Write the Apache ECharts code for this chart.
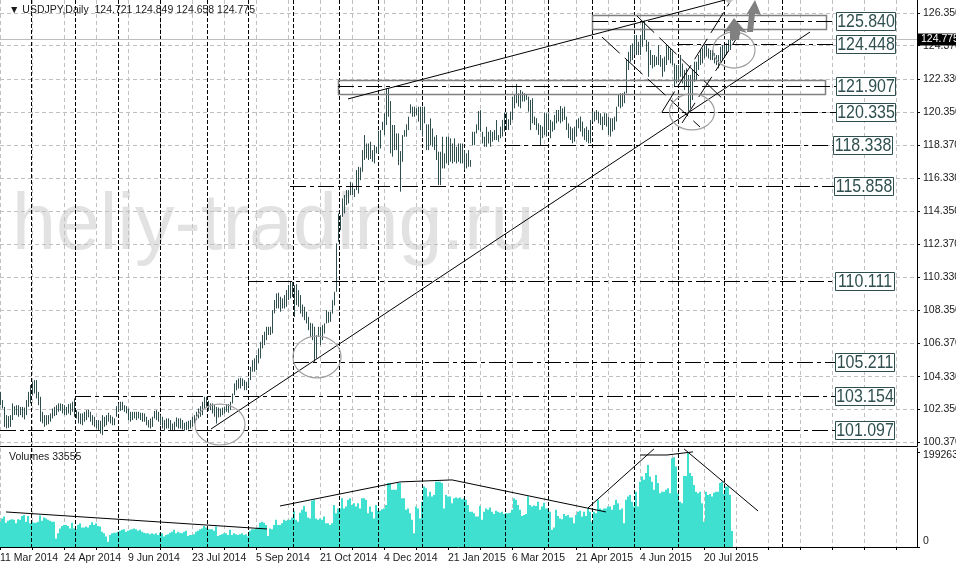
<!doctype html>
<html lang="en">
<head>
<meta charset="utf-8">
<title>USDJPY Daily</title>
<script src="https://cdn.jsdelivr.net/npm/echarts@6/dist/echarts.min.js"></script>
<style>
html, body { margin: 0; padding: 0; background: #fff; overflow: hidden; }
#chart { width: 956px; height: 566px; }
</style>
</head>
<body>
<div id="chart"></div>
<script>
// daily highs / lows, one per bar
var highs = [
103.41,102.91,102.50,102.00,101.94,102.00,102.71,102.54,102.60,102.60,102.50,102.50,102.46,102.91,103.41,103.82,104.02,104.12,104.12,103.41,
103.11,102.20,102.00,102.00,102.00,102.10,102.40,102.50,102.60,102.71,102.71,102.67,102.60,102.50,102.67,102.71,102.81,103.01,102.30,102.20,
102.10,102.10,102.20,102.30,102.34,102.20,102.00,101.90,101.70,101.70,101.66,102.00,101.90,102.00,102.14,102.00,101.90,101.80,102.54,102.71,
102.81,102.81,102.60,102.54,102.40,102.20,102.20,102.20,102.20,102.20,102.14,102.14,102.10,101.90,101.70,101.80,101.90,102.26,102.30,102.20,
102.00,101.90,101.70,101.80,101.80,101.70,101.49,101.60,101.86,101.80,101.80,101.70,101.54,101.60,101.66,101.70,101.90,102.00,102.20,102.40,
102.54,102.81,103.11,103.11,102.87,102.71,102.71,102.60,102.50,102.46,102.40,102.46,102.50,102.67,102.67,102.81,103.31,103.92,104.12,104.22,
104.26,104.22,104.12,104.02,104.22,104.93,105.33,105.43,105.64,106.04,106.44,106.85,107.05,107.35,107.35,107.35,108.36,108.97,109.37,109.41,
109.17,109.07,109.27,109.57,109.88,110.08,110.07,109.87,109.93,109.57,109.27,108.70,108.56,108.26,107.95,107.59,107.55,107.35,106.84,107.35,
107.35,107.45,107.55,108.36,108.26,108.26,108.96,109.47,112.40,114.21,114.11,115.12,115.33,115.63,115.63,116.13,116.03,115.70,116.84,117.04,
117.00,118.05,118.96,118.45,118.45,118.56,118.05,118.35,118.25,119.22,119.26,119.77,120.27,121.79,121.79,121.02,119.57,119.57,119.06,119.06,
117.99,118.96,119.26,119.61,120.07,120.82,120.68,120.68,120.58,120.68,120.68,120.68,120.68,119.61,119.61,119.97,119.36,118.86,118.96,117.95,
117.95,118.86,117.85,118.86,118.86,118.76,118.45,118.76,118.25,118.45,118.45,118.45,118.05,117.85,118.05,117.45,119.16,119.16,119.61,120.41,
120.47,119.16,118.86,119.46,119.16,119.26,119.16,119.26,119.87,118.96,119.47,119.88,120.32,120.32,119.92,120.38,121.29,121.39,122.06,121.49,
121.69,121.59,121.49,121.45,121.29,121.09,121.19,120.08,119.98,119.67,119.57,119.47,120.32,120.28,120.28,119.88,119.78,120.18,120.48,120.48,
120.72,120.58,120.68,120.08,119.67,119.47,119.37,119.47,119.88,119.98,120.08,119.78,119.37,119.47,119.27,119.88,120.38,120.38,120.48,120.38,
120.28,120.08,120.28,120.28,120.08,119.98,119.98,120.08,120.68,121.39,121.49,121.49,121.59,123.50,124.00,124.41,124.51,125.02,125.02,124.61,
125.02,125.83,125.89,124.72,124.61,124.11,123.81,123.81,123.71,124.41,123.81,123.61,123.71,124.41,124.31,124.21,124.01,123.30,123.20,123.20,
123.81,123.30,122.90,123.00,122.60,122.60,122.90,123.40,123.40,123.81,124.11,124.21,124.41,124.41,124.21,124.11,124.11,123.91,123.81,123.81,
124.31,124.41,124.41,124.51,124.72,124.82,124.85
];
var lows = [
102.60,102.40,101.29,101.19,101.23,101.29,101.70,102.00,102.00,101.90,102.00,101.86,101.74,102.00,102.50,102.71,103.21,103.31,103.01,102.60,
101.60,101.50,101.29,101.39,101.45,101.60,101.80,101.94,102.00,102.20,102.26,102.10,102.00,102.00,102.10,102.00,102.20,101.90,101.80,101.50,
101.45,101.39,101.60,101.70,101.86,101.60,101.39,101.29,101.19,101.09,100.89,100.79,101.29,101.39,101.60,101.49,101.39,101.39,101.90,102.20,
102.26,102.30,102.20,102.10,101.70,101.60,101.70,101.80,101.70,101.80,101.70,101.60,101.60,101.39,101.25,101.19,101.29,101.80,101.70,101.60,
101.39,101.19,101.05,101.19,101.19,101.05,101.05,101.09,101.29,101.19,101.19,101.13,101.05,101.09,101.13,101.19,101.29,101.49,101.70,101.80,
101.90,102.00,102.40,102.50,102.26,102.30,102.10,101.90,101.49,101.86,101.90,102.00,102.10,102.20,102.14,102.30,102.71,103.21,103.51,103.61,
103.61,103.76,103.51,103.51,103.72,104.12,104.63,104.63,104.73,105.13,105.43,106.04,106.24,106.54,106.85,106.85,106.95,108.16,108.46,108.46,
108.26,108.46,108.46,108.56,108.97,109.07,109.16,107.95,108.66,108.56,108.15,107.95,107.75,107.55,107.14,106.74,106.54,105.23,105.43,106.74,
106.24,106.54,106.94,107.55,107.59,107.65,108.15,108.64,109.47,112.50,113.20,114.01,114.21,114.72,114.82,115.32,115.32,115.20,115.63,115.42,
116.23,116.74,117.45,117.55,117.45,117.51,117.34,117.24,117.85,117.85,118.15,119.26,118.96,119.57,120.07,117.85,117.65,118.05,118.05,117.14,
115.53,117.34,118.86,118.86,119.26,120.27,120.07,120.07,120.17,119.77,119.26,118.86,119.67,118.05,118.05,118.35,118.25,118.05,117.45,115.93,
115.93,116.94,116.94,117.24,117.14,117.34,117.24,117.34,117.24,117.34,117.24,117.24,116.84,116.94,117.04,117.04,118.35,118.35,119.06,119.26,
119.16,118.45,118.25,118.25,118.45,118.25,118.56,118.66,118.66,118.56,118.77,118.87,119.17,119.27,119.27,119.57,119.88,120.58,120.89,120.68,
120.58,120.99,120.99,121.09,120.38,119.27,119.67,119.57,119.27,118.97,118.36,118.77,118.97,118.87,119.27,118.77,119.17,119.27,119.67,119.78,
119.67,119.78,119.88,119.27,118.77,118.66,118.46,118.56,118.87,119.37,119.17,118.87,118.66,118.56,118.46,118.46,119.78,119.78,119.88,119.67,
119.57,119.27,119.57,119.47,118.97,118.87,119.17,119.27,119.78,120.68,120.58,120.68,120.89,121.49,122.90,123.40,123.50,123.81,123.81,123.81,
123.81,124.31,124.72,124.01,122.49,123.20,123.00,123.10,123.20,123.20,123.10,122.49,122.80,123.20,123.50,123.30,123.20,121.89,122.09,122.29,
122.49,122.09,121.69,121.89,120.37,120.57,121.08,122.19,122.29,122.90,123.20,123.30,123.60,123.71,123.60,123.50,123.50,123.30,123.20,123.00,
123.40,123.50,123.71,123.81,124.01,124.11,124.66
];
// volumes in thousands of ticks
var volumes = [
53,60,64,51,55,57,58,57,50,58,57,65,67,53,65,50,53,51,51,53,
66,55,62,60,57,55,53,53,18,29,39,44,46,46,44,39,51,39,37,46,
50,41,41,43,41,46,52,46,50,44,43,32,29,22,11,25,29,30,30,32,
34,36,37,32,34,36,37,39,37,34,36,32,30,29,29,27,29,27,29,25,
30,29,22,25,27,30,32,36,29,32,30,29,32,34,23,25,25,27,32,34,
37,39,44,41,37,37,37,34,43,23,25,27,29,29,25,36,25,29,27,25,
27,29,25,27,22,34,37,37,39,41,51,53,51,46,23,39,37,46,57,46,
46,50,57,55,57,57,62,76,57,53,72,78,86,74,62,60,97,99,60,57,
60,57,64,50,50,46,50,88,71,81,81,102,81,85,99,102,88,92,85,92,
81,102,102,99,71,85,74,60,88,76,76,79,81,88,134,134,120,120,120,134,
134,102,102,78,81,71,57,29,85,81,60,95,127,123,106,116,106,109,137,137,
137,134,81,109,106,106,92,102,104,102,104,100,102,99,88,74,74,71,64,64,
86,57,74,81,78,83,74,69,76,74,72,74,69,71,71,72,78,102,99,88,
78,65,67,69,106,88,85,87,86,95,78,85,93,81,81,74,36,41,78,65,
60,58,69,65,67,62,62,50,67,74,76,64,74,65,81,74,53,74,71,99,
81,78,81,81,85,85,78,88,99,92,78,81,50,99,106,109,95,85,116,85,
137,148,141,155,172,148,137,120,151,134,113,116,116,120,123,113,186,188,169,113,
95,92,149,149,199.263,155,149,130,116,113,116,92,53,116,109,111,106,114,116,116,
134,137,111,127,127,109,33.555
];

var priceTicks = [100.37,102.35,104.33,106.37,108.35,110.33,112.37,114.35,116.33,118.37,120.35,122.33,124.37,126.35];
var volumeTicks = [0,199263];
var dateLabels = ['11 Mar 2014','24 Apr 2014','9 Jun 2014','23 Jul 2014','5 Sep 2014','21 Oct 2014','4 Dec 2014','21 Jan 2015','6 Mar 2015','21 Apr 2015','4 Jun 2015','20 Jul 2015'];
var gridBars = [0,16,32,48,64,80,96,112,128,144,160,176,192,208,224,240,256,272,288,304,320,336,352,368,384,400,416,432,448];
var labelBars = [0,32,64,96,128,160,192,224,256,288,320,352];
// month separators, in bar numbers
var monthBars = [15.5,37.5,59,80,103.5,124,146.5,169.5,189,211,232,252.5,274,296,317,339,362,391];

// horizontal levels: price, first bar, bar of the label box
var levelPrices = [125.84,124.448,121.907,120.335,118.338,115.858,110.111,105.211,103.154,101.097];
var levelTexts = ['125.840','124.448','121.907','120.335','118.338','115.858','110.111','105.211','103.154','101.097'];
var levelStarts = [296,338.5,169,331,252,145,124,146.5,37.5,0];
var levelBoxes = [418,418,418,418,416.5,417,417.5,417.5,417.5,417.5];
// zones: first bar, last bar, upper price, lower price
var zones = [[296,413,126.23,125.37],[169,412.5,122.32,121.47]];
// trend lines: bar, price, bar, price
var priceLines = [[105.5,101.16,405,125.20],[174,121.15,362.5,127.14]];
var fanLines = [[301,124.90,350,119.45],[318.5,126.17,362.5,121.02],[331,120.36,365,127.02],[341,119.69,370,125.14]];
var volumeLines = [
  [3,73.5,133.5,37.8],[140,86,200,136.5],[200,136.5,226,140.7],[226,140.7,303,73.5],
  [294,81.9,327,205.8],[320,193,333.5,193],[333.5,193,346.5,199.5],[342,205.8,379,75.6]
];
// circles: bar, price, half width in bars, half height in price
var circles = [[110,101.43,12.5,1.24],[158.5,105.52,12,1.27],[346,120.36,11.25,1.09],[367,124.11,10.5,1.09]];
var arrows = [
  [[367,126.05],[373.5,125.14],[370,125.26],[369.5,124.72],[365,124.72],[365,125.26],[362,125.20]],
  [[377.5,127.14],[380.5,126.23],[377.5,126.3],[376.5,125.2],[373.5,125.2],[374.5,126.3],[373,126.23]],
  [[362.5,127.14],[366.5,127.14],[364.5,126.9]]
];
var lastPrice = 124.775;

var SLATE = '#2f4f4f';
var UI_FONT = '"Liberation Sans", Arial, sans-serif';
var chart = echarts.init(document.getElementById('chart'));

function crisp(v) { return Math.round(v) + 0.5; }

function xAxisOf(gridIndex, withLabels) {
  return {
    type: 'value', gridIndex: gridIndex, min: 0, max: 458.5, position: 'bottom',
    axisLine: { show: true, onZero: false, lineStyle: { color: '#000', width: 1 } },
    axisTick: { show: withLabels, length: 3, customValues: gridBars, lineStyle: { color: '#000' } },
    axisLabel: {
      show: withLabels, customValues: labelBars, align: 'left', margin: 6,
      color: '#1a1a1a', fontFamily: UI_FONT, fontSize: 10.5,
      formatter: function (v) { return dateLabels[labelBars.indexOf(v)]; }
    },
    splitLine: { show: true, lineStyle: { color: '#c0c0c0', type: [4, 3], width: 1 } }
  };
}

function segments(name, x, y, data, color, dash) {
  return {
    type: 'custom', name: name, xAxisIndex: x, yAxisIndex: y, clip: true, silent: true, data: data, z: 5,
    renderItem: function (params, api) {
      var a = api.coord([api.value(0), api.value(1)]);
      var b = api.coord([api.value(2), api.value(3)]);
      return {
        type: 'line',
        shape: { x1: a[0], y1: a[1], x2: b[0], y2: b[1] },
        style: { stroke: color, lineWidth: 1, lineDash: dash || null, fill: null }
      };
    }
  };
}

function separators(y) {
  return {
    type: 'custom', xAxisIndex: y, yAxisIndex: y, silent: true, z: 3,
    data: monthBars.map(function (b) { return [b]; }),
    renderItem: function (params, api) {
      var x = crisp(api.coord([api.value(0), 0])[0]);
      var r = params.coordSys;
      return {
        type: 'line',
        shape: { x1: x, y1: r.y, x2: x, y2: r.y + r.height },
        style: { stroke: '#000', lineWidth: 1, lineDash: [4, 2], fill: null }
      };
    }
  };
}

var option = {
  animation: false,
  backgroundColor: '#fff',
  textStyle: { fontFamily: UI_FONT },
  title: [
    { text: '\u25BC USDJPY,Daily  124.721 124.849 124.658 124.775', left: 4, top: 0,
      textStyle: { fontSize: 10.5, fontWeight: 'normal', color: '#1a1a1a', fontFamily: UI_FONT } },
    { text: 'Volumes 33555', left: 4, top: 447,
      textStyle: { fontSize: 10.5, fontWeight: 'normal', color: '#1a1a1a', fontFamily: UI_FONT } }
  ],
  graphic: [{
    type: 'text', left: 12, top: 188, z: -1, silent: true,
    style: { text: 'heliy-trading.ru', fontSize: 79, fontFamily: '"Liberation Sans", Arial, sans-serif', fill: '#e2e2e2' }
  }],
  grid: [
    { left: 0, top: 0, width: 917, height: 446, show: false, outerBoundsMode: 'none' },
    { left: 0, top: 448, width: 917, height: 99, show: false, outerBoundsMode: 'none' }
  ],
  xAxis: [xAxisOf(0, false), xAxisOf(1, true)],
  yAxis: [
    {
      type: 'value', gridIndex: 0, position: 'right', min: 100.13, max: 127.14,
      axisLine: { show: true, onZero: false, lineStyle: { color: '#000' } },
      axisTick: { show: true, length: 3, customValues: priceTicks, lineStyle: { color: '#000' } },
      axisLabel: {
        customValues: priceTicks, margin: 6, color: '#1a1a1a', fontFamily: UI_FONT, fontSize: 10.5,
        formatter: function (v) { return v.toFixed(3); }
      },
      splitLine: { show: true, lineStyle: { color: '#c0c0c0', type: [4, 3], width: 1 } }
    },
    {
      type: 'value', gridIndex: 1, position: 'right', min: 0, max: 207650,
      axisLine: { show: true, onZero: false, lineStyle: { color: '#000' } },
      axisTick: { show: true, length: 3, customValues: volumeTicks, lineStyle: { color: '#000' } },
      axisLabel: {
        customValues: volumeTicks, margin: 6, color: '#1a1a1a', fontFamily: UI_FONT, fontSize: 10.5,
        verticalAlignMinLabel: 'bottom',
        rich: { top: { color: '#1a1a1a', fontFamily: UI_FONT, fontSize: 10.5, padding: [6, 0, 0, 0] } },
        formatter: function (v) { return v ? '{top|' + v + '}' : String(v); }
      },
      splitLine: { show: false }
    }
  ],
  series: [
    separators(0),
    separators(1),
    {
      // daily bars
      type: 'custom', name: 'USDJPY', xAxisIndex: 0, yAxisIndex: 0, clip: true, silent: true, z: 4,
      data: highs.map(function (h, i) { return [i, h, lows[i]]; }),
      renderItem: function (params, api) {
        var hi = api.coord([api.value(0), api.value(1)]);
        var lo = api.coord([api.value(0), api.value(2)]);
        var x = crisp(hi[0]);
        return {
          type: 'line',
          shape: { x1: x, y1: hi[1], x2: x, y2: lo[1] },
          style: { stroke: SLATE, lineWidth: 1, fill: null }
        };
      }
    },
    {
      // last price line and tag
      type: 'custom', xAxisIndex: 0, yAxisIndex: 0, silent: true, z: 3,
      data: [[0, lastPrice]],
      renderItem: function (params, api) {
        var y = crisp(api.coord([0, api.value(1)])[1]);
        var r = params.coordSys;
        return {
          type: 'group',
          children: [
            { type: 'line', shape: { x1: r.x, y1: y, x2: r.x + r.width, y2: y }, style: { stroke: '#bdbdbd', lineWidth: 1, fill: null } },
            { type: 'rect', z2: 20, shape: { x: r.x + r.width + 1, y: y - 6, width: 39, height: 12 }, style: { fill: '#000' } },
            { type: 'text', z2: 21, x: r.x + r.width + 4, y: y, style: { text: lastPrice.toFixed(3), fill: '#fff', font: '10.5px ' + UI_FONT, verticalAlign: 'middle' } }
          ]
        };
      }
    },
    {
      // gray zones
      type: 'custom', xAxisIndex: 0, yAxisIndex: 0, silent: true, z: 5,
      data: zones,
      renderItem: function (params, api) {
        var a = api.coord([api.value(0), api.value(2)]);
        var b = api.coord([api.value(1), api.value(3)]);
        return {
          type: 'rect',
          shape: { x: crisp(a[0]), y: crisp(a[1]), width: Math.round(b[0] - a[0]), height: Math.round(b[1] - a[1]) },
          style: { stroke: '#808080', lineWidth: 1.5, fill: null }
        };
      }
    },
    {
      // levels with their boxed labels
      type: 'custom', xAxisIndex: 0, yAxisIndex: 0, silent: true, z: 6,
      data: levelPrices.map(function (p, i) { return [levelStarts[i], p, levelBoxes[i]]; }),
      renderItem: function (params, api) {
        var start = api.coord([api.value(0), api.value(1)]);
        var box = api.coord([api.value(2), api.value(1)]);
        var y = crisp(start[1]);
        var bx = crisp(box[0]);
        return {
          type: 'group',
          children: [
            { type: 'line', shape: { x1: start[0], y1: y, x2: bx, y2: y }, style: { stroke: '#000', lineWidth: 1, lineDash: [16, 4, 4, 4], fill: null } },
            { type: 'rect', z2: 8, shape: { x: bx, y: y - 9, width: 59, height: 18 }, style: { stroke: SLATE, lineWidth: 1, fill: '#fff' } },
            { type: 'text', z2: 9, x: bx + 29.5, y: y + 0.5, scaleX: 0.84, style: { text: levelTexts[params.dataIndex], fill: SLATE, font: '19px "Liberation Sans", sans-serif', align: 'center', verticalAlign: 'middle' } }
          ]
        };
      }
    },
    segments('trend', 0, 0, priceLines, '#000'),
    segments('fan', 0, 0, fanLines, '#000', [24, 7]),
    {
      // circles
      type: 'custom', xAxisIndex: 0, yAxisIndex: 0, clip: true, silent: true, z: 6,
      data: circles,
      renderItem: function (params, api) {
        var c = api.coord([api.value(0), api.value(1)]);
        var s = api.size([api.value(2), api.value(3)]);
        return {
          type: 'ellipse',
          shape: { cx: c[0], cy: c[1], rx: s[0], ry: s[1] },
          style: { stroke: '#a0a0a0', lineWidth: 1.2, fill: null }
        };
      }
    },
    {
      // gray arrows
      type: 'custom', xAxisIndex: 0, yAxisIndex: 0, clip: true, silent: true, z: 7,
      data: arrows.map(function (a) { return a[0]; }),
      renderItem: function (params, api) {
        return {
          type: 'polygon',
          shape: { points: arrows[params.dataIndex].map(function (p) { return api.coord(p); }) },
          style: { fill: params.dataIndex === 2 ? '#c0c0c0' : '#808080' }
        };
      }
    },
    {
      type: 'bar', name: 'Volumes', xAxisIndex: 1, yAxisIndex: 1, barWidth: 2, silent: true, z: 2,
      data: volumes.map(function (v, i) { return [i, v * 1000]; }),
      itemStyle: { color: '#40e0d0' }
    },
    segments('volume trend', 1, 1, volumeLines.map(function (l) { return [l[0], l[1] * 1000, l[2], l[3] * 1000]; }), '#000')
  ]
};
chart.setOption(option);
</script>
</body>
</html>
